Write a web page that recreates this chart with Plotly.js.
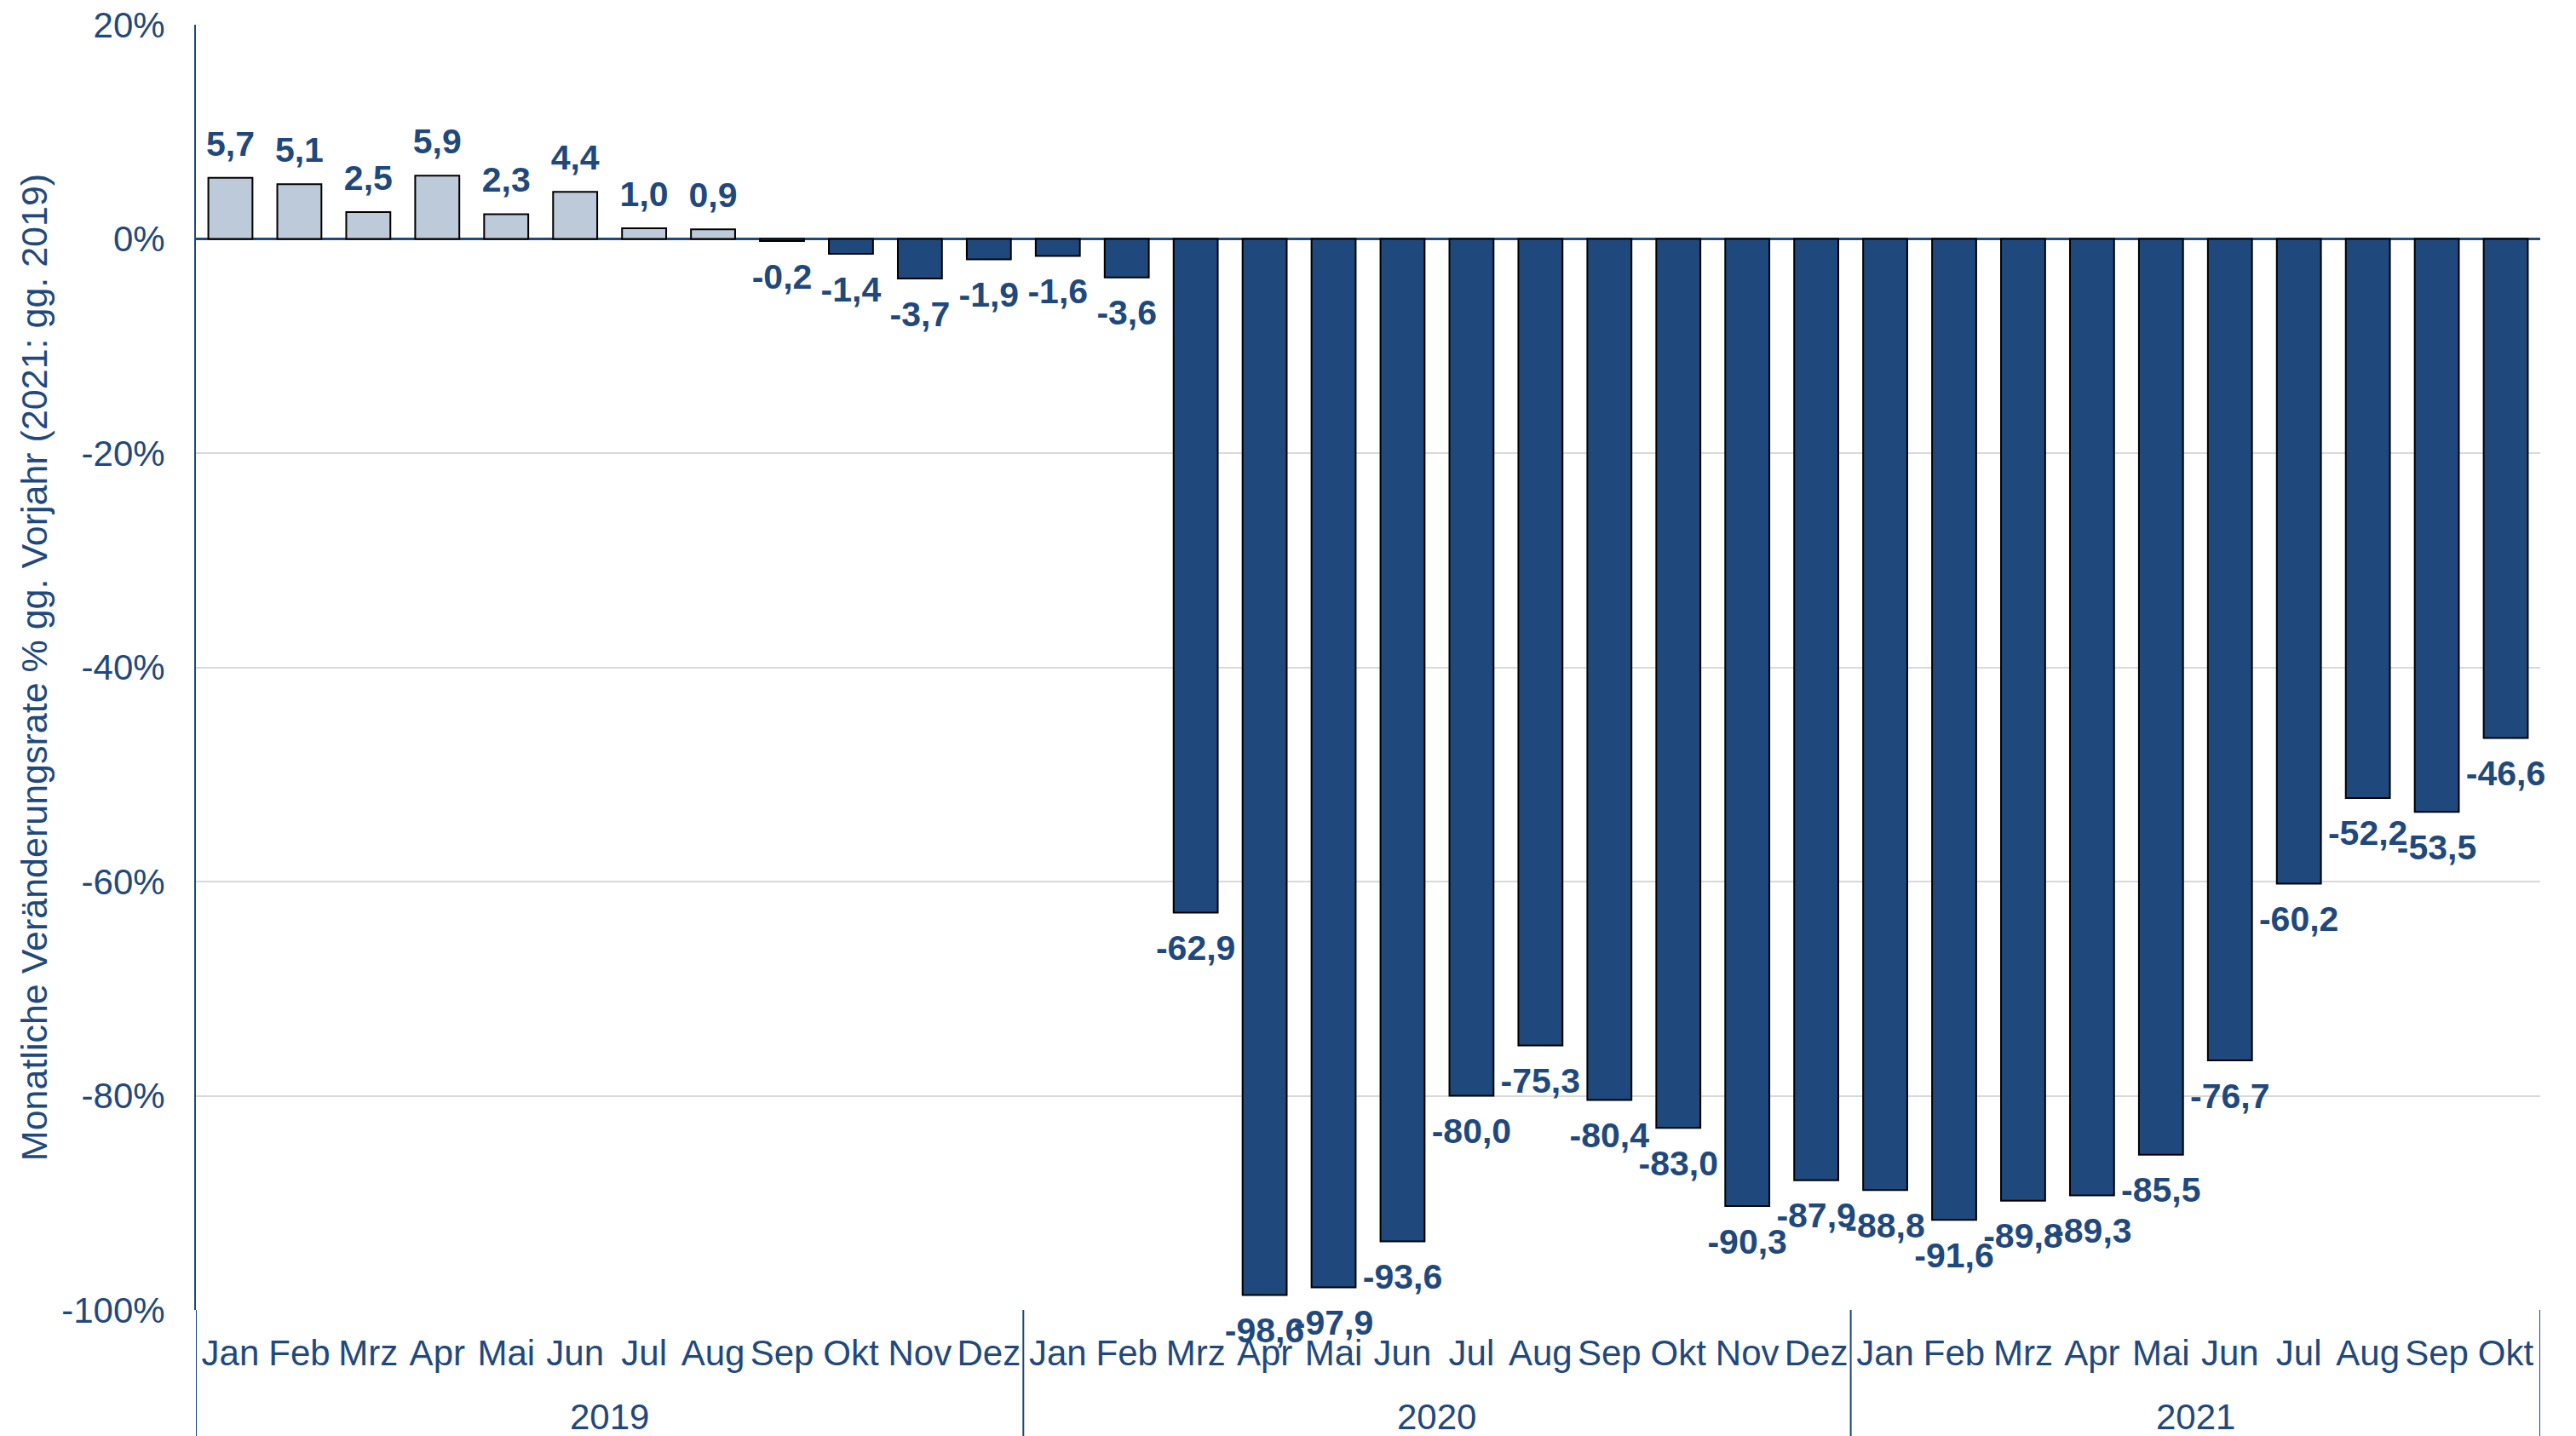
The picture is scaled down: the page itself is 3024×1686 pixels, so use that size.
<!DOCTYPE html>
<html>
<head>
<meta charset="utf-8">
<script src="https://cdn.plot.ly/plotly-3.0.1.min.js"></script>
<style>
  html, body { margin: 0; padding: 0; background: #ffffff; }
  #chart { width: 3024px; height: 1686px; }
</style>
</head>
<body>
<div id="chart"></div>
<script>
// ---- data ----
const years = [
  '2019','2019','2019','2019','2019','2019','2019','2019','2019','2019','2019','2019',
  '2020','2020','2020','2020','2020','2020','2020','2020','2020','2020','2020','2020',
  '2021','2021','2021','2021','2021','2021','2021','2021','2021','2021'
];
const months = [
  'Jan','Feb','Mrz','Apr','Mai','Jun','Jul','Aug','Sep','Okt','Nov','Dez',
  'Jan','Feb','Mrz','Apr','Mai','Jun','Jul','Aug','Sep','Okt','Nov','Dez',
  'Jan','Feb','Mrz','Apr','Mai','Jun','Jul','Aug','Sep','Okt'
];
const values = [
  5.7, 5.1, 2.5, 5.9, 2.3, 4.4, 1.0, 0.9, -0.2, -1.4, -3.7, -1.9,
  -1.6, -3.6, -62.9, -98.6, -97.9, -93.6, -80.0, -75.3, -80.4, -83.0, -90.3, -87.9,
  -88.8, -91.6, -89.8, -89.3, -85.5, -76.7, -60.2, -52.2, -53.5, -46.6
];
const yTickVals = [20, 0, -20, -40, -60, -80, -100];
const yTickText = ['20%', '0%', '-20%', '-40%', '-60%', '-80%', '-100%'];
const yTitle = 'Monatliche Veränderungsrate % gg. Vorjahr (2021: gg. 2019)';

// ---- styles ----
const NAVY = '#1F497D';
const LIGHT = '#BCCAD9';
const FONT = 'Liberation Sans, Arial, sans-serif';
const W = 3024, H = 1686;
const M = { l: 230, r: 42, t: 29, b: 148 };
const plotH = H - M.t - M.b;

// ---- derived ----
const idx = values.map((_, i) => i);
const labels = values.map(v => v.toFixed(1).replace('.', ','));
const colors = values.map(v => (v > 0 ? LIGHT : NAVY));
const labelPos = values.map(v => (v > 0 ? 'top center' : 'bottom center'));
const labelPad = values.map(v => (v > 0 ? 24 : 38));

// year groups -> centre positions and boundaries
const groups = [];
years.forEach((y, i) => {
  const g = groups[groups.length - 1];
  if (!g || g.year !== y) groups.push({ year: y, first: i, last: i });
  else g.last = i;
});
const boundaries = [groups[0].first - 0.5].concat(groups.map(g => g.last + 0.5));

const bars = {
  type: 'bar',
  x: idx,
  y: values,
  marker: { color: colors, line: { color: '#000000', width: 2 } },
  hoverinfo: 'none'
};

const valueLabels = {
  type: 'scatter',
  mode: 'markers+text',
  x: idx,
  y: values,
  text: labels,
  textposition: labelPos,
  cliponaxis: false,
  marker: { size: labelPad, opacity: 0, color: NAVY },
  textfont: { family: FONT, size: 41, color: NAVY, weight: 'bold' },
  hoverinfo: 'none'
};

const yearAnnotations = groups.map(g => ({
  xref: 'x', yref: 'paper',
  x: (g.first + g.last) / 2,
  y: -125 / plotH,
  yanchor: 'middle', xanchor: 'center',
  text: g.year,
  showarrow: false,
  font: { family: FONT, size: 42, color: NAVY }
}));

const dividerShapes = boundaries.map(b => ({
  type: 'line', xref: 'x', yref: 'paper',
  x0: b, x1: b, y0: 0, y1: -M.b / plotH,
  line: { color: NAVY, width: 2 }
}));

const layout = {
  width: W,
  height: H,
  margin: M,
  paper_bgcolor: '#ffffff',
  plot_bgcolor: '#ffffff',
  showlegend: false,
  bargap: 0.36,
  font: { family: FONT, color: NAVY, size: 42 },
  xaxis: {
    type: 'linear',
    range: [-0.5, values.length - 0.5],
    tickmode: 'array',
    tickvals: idx,
    ticktext: months,
    tickangle: 0,
    showgrid: false,
    zeroline: false,
    showline: false,
    ticks: '',
    ticklabelstandoff: 22,
    tickfont: { family: FONT, size: 42, color: NAVY }
  },
  yaxis: {
    range: [-100, 20],
    tickvals: yTickVals,
    ticktext: yTickText,
    tickfont: { family: FONT, size: 42, color: NAVY },
    ticks: '',
    ticklabelstandoff: 26,
    showgrid: true,
    gridcolor: '#D9D9D9',
    gridwidth: 2,
    zeroline: true,
    zerolinecolor: NAVY,
    zerolinewidth: 3,
    showline: true,
    linecolor: NAVY,
    linewidth: 2,
    title: { text: yTitle, font: { family: FONT, size: 43, color: NAVY }, standoff: 3 }
  },
  annotations: yearAnnotations,
  shapes: dividerShapes
};

Plotly.newPlot('chart', [bars, valueLabels], layout, { displayModeBar: false, staticPlot: true });
</script>
</body>
</html>
